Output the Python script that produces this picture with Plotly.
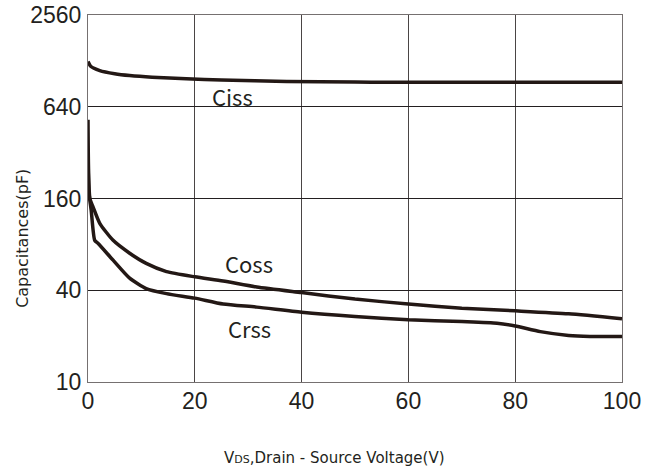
import math
import plotly.graph_objects as go

FONT = "Noto Sans CJK SC"
TICK_FONT = "Liberation Sans"
TITLE_FONT = "DejaVu Sans"
INK = "#231815"
TXT = "#231f20"

ciss_x = [0, 0.5, 2.2, 5, 7.8, 12, 18.4, 25, 37.2, 50, 56, 70, 85, 100]
ciss_y = [1266, 1180, 1106, 1055, 1026, 1000, 976, 960, 937, 930, 927, 927, 927, 927]

coss_x = [0, 0.1, 0.35, 0.94, 2.2, 4.7, 7.8, 10.9, 14.7, 20, 25.3, 31.6, 40, 50, 60, 70, 80, 90, 100]
coss_y = [526, 250, 160, 141, 110, 85, 70, 60, 53, 49, 46, 42, 38.6, 35, 32.5, 30.5, 29.3, 28, 26]

crss_x = [0, 0.15, 0.3, 0.6, 1.26, 1.9, 4.7, 7.8, 10.9, 14.7, 20, 25.3, 31.6, 40, 50, 60, 70, 76.6, 80, 84.7, 90, 94, 100]
crss_y = [278, 180, 160, 134, 85, 81, 63, 48, 41, 38, 35.5, 32.5, 31, 28.7, 26.9, 25.6, 24.9, 24.3, 23.3, 21.4, 20.2, 19.9, 19.9]

x_ticks = [0, 20, 40, 60, 80, 100]
y_ticks = [10, 40, 160, 640, 2560]

labels = ["Ciss", "Coss", "Crss"]
label_x = [27.1, 30.1, 30.3]
label_y = [750, 60, 22.6]

fig = go.Figure()
for xs, ys in [(ciss_x, ciss_y), (coss_x, coss_y), (crss_x, crss_y)]:
    fig.add_trace(go.Scatter(x=xs, y=ys, mode="lines",
                             line=dict(color=INK, width=3.5, shape="spline", smoothing=0.6),
                             showlegend=False, hoverinfo="skip"))

for t, xv, yv in zip(labels, label_x, label_y):
    fig.add_annotation(x=xv, y=math.log10(yv), xref="x", yref="y", text=t, showarrow=False,
                       xanchor="center", yanchor="middle",
                       font=dict(family=FONT, size=22, color=TXT))

fig.add_annotation(x=(23 - 88) / 534, y=0.39, xref="paper", yref="paper",
                   text="Capacitances(pF)", textangle=-90, showarrow=False,
                   xanchor="center", yanchor="middle",
                   font=dict(family=TITLE_FONT, size=16, color=TXT))
fig.add_annotation(x=0.4607, y=-0.207, xref="paper", yref="paper",
                   text='V<span style="font-size:11px">DS</span>,Drain - Source Voltage(V)',
                   showarrow=False, xanchor="center", yanchor="middle",
                   font=dict(family=TITLE_FONT, size=15, color=TXT))

fig.update_layout(
    width=657, height=472,
    margin=dict(l=88, r=35, t=15, b=90, autoexpand=False),
    paper_bgcolor="white", plot_bgcolor="white",
    font=dict(family=FONT, color=TXT),
)
fig.update_xaxes(range=[0, 100], tickvals=x_ticks, ticktext=[str(v) for v in x_ticks],
                 showgrid=True, gridcolor="#4a4545", gridwidth=1,
                 showline=True, linecolor="#757070", linewidth=1, mirror=True,
                 ticks="", ticklabelstandoff=-2, zeroline=False, automargin=False,
                 ticklabeloverflow="allow",
                 tickfont=dict(family=TICK_FONT, size=23, color=TXT))
fig.update_yaxes(type="log", range=[1, math.log10(2560) + 1e-6], tickvals=y_ticks,
                 ticktext=[str(v) for v in y_ticks],
                 showgrid=True, gridcolor="#231f20", gridwidth=1,
                 showline=True, linecolor="#757070", linewidth=1, mirror=True,
                 ticks="", ticklabelstandoff=1, zeroline=False, automargin=False,
                 ticklabeloverflow="allow",
                 tickfont=dict(family=TICK_FONT, size=23, color=TXT))

fig.write_html("out.html",
               config={"displayModeBar": False},
               post_script="document.body.style.margin='0';document.body.style.overflow='hidden';")
